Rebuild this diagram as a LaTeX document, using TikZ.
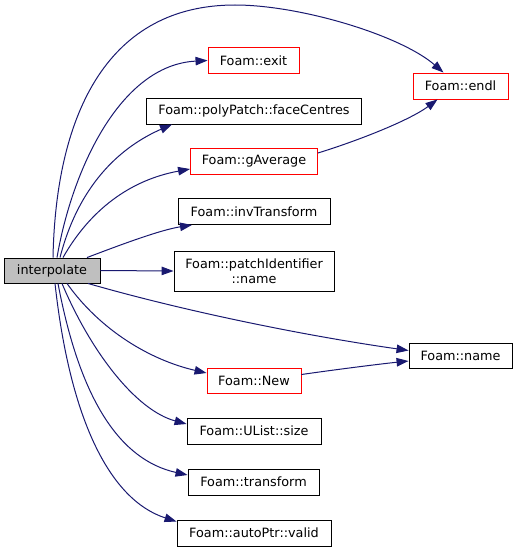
\documentclass[tikz,border=0pt]{standalone}
\usepackage{fontspec}
\setmainfont{DejaVu Sans}
\usetikzlibrary{arrows.meta}
\definecolor{edgeblue}{HTML}{191970}
\definecolor{nodegray}{HTML}{BFBFBF}
\begin{document}
\begin{tikzpicture}[x=1pt,y=-1pt,
  box/.style={draw=black, line width=0.9pt, minimum height=26pt, inner sep=0pt,
    font=\fontsize{12.8}{15.5}\selectfont, anchor=center},
  redbox/.style={box, draw=red},
  edge/.style={draw=edgeblue, line width=1pt, -{Triangle[length=12pt,width=8.5pt]}}]
\useasboundingbox (0,0) rectangle (517,551);
\node[box, fill=nodegray, minimum width=96pt, minimum height=25pt] (interp) at (52,270.5) {interpolate};
\node[redbox, minimum width=91pt] (exit) at (253.5,60.5) {Foam::exit};
\node[box, minimum width=215pt] (face) at (254,111) {Foam::polyPatch::faceCentres};
\node[redbox, minimum width=127pt] (gavg) at (254,161) {Foam::gAverage};
\node[redbox, minimum width=95pt] (endl) at (460.5,86) {Foam::endl};
\node[box, minimum width=152pt] (invt) at (254,211.5) {Foam::invTransform};
\node[box, minimum width=160pt, minimum height=40pt, align=center] (pid) at (254,271) {Foam::patchIdentifier\\::name};
\node[box, minimum width=103pt, minimum height=25pt] (name) at (460.5,355.5) {Foam::name};
\node[redbox, minimum width=94pt, minimum height=25pt] (new) at (254,380.5) {Foam::New};
\node[box, minimum width=134pt] (size) at (254,431) {Foam::UList::size};
\node[box, minimum width=131pt] (trans) at (253.5,482) {Foam::transform};
\node[box, minimum width=154pt] (valid) at (254,533) {Foam::autoPtr::valid};
% edges upward
\draw[edge] ([xshift=1pt]interp.north) .. controls (56,110) and (110,5) .. (235,5)
  .. controls (300,5) and (400,35) .. ([xshift=-17pt]endl.north);
\draw[edge] ([xshift=5pt]interp.north) .. controls (72,170) and (120,65) .. (exit.west);
\draw[edge] ([xshift=8pt]interp.north) .. controls (80,180) and (125,145) .. ([xshift=-82pt]face.south);
\draw[edge] ([xshift=11pt]interp.north) .. controls (90,210) and (130,180) .. ([yshift=-8pt]gavg.west);
\draw[edge] ([xshift=35pt]interp.north) .. controls (120,245) and (160,230) .. ([xshift=-62pt]invt.south);
\draw[edge] (interp.east) -- (pid.west);
% edges downward
\draw[edge] ([xshift=36pt]interp.south) .. controls (180,310) and (300,335) .. ([yshift=5pt]name.west);
\draw[edge] ([xshift=15pt]interp.south) .. controls (100,330) and (150,360) .. ([yshift=7.5pt]new.west);
\draw[edge] ([xshift=10pt]interp.south) .. controls (90,350) and (135,410) .. ([yshift=7pt]size.west);
\draw[edge] ([xshift=6pt]interp.south) .. controls (80,400) and (120,460) .. ([yshift=7pt]trans.west);
\draw[edge] ([xshift=3pt]interp.south) .. controls (70,420) and (110,500) .. ([yshift=-2pt]valid.north west);
% other edges
\draw[edge] ([yshift=8pt]gavg.east) .. controls (360,140) and (410,120) .. ([xshift=-23pt]endl.south);
\draw[edge] ([yshift=6pt]new.east) .. controls (340,369) and (380,364) .. ([yshift=-5.5pt]name.west);
\end{tikzpicture}
\end{document}
